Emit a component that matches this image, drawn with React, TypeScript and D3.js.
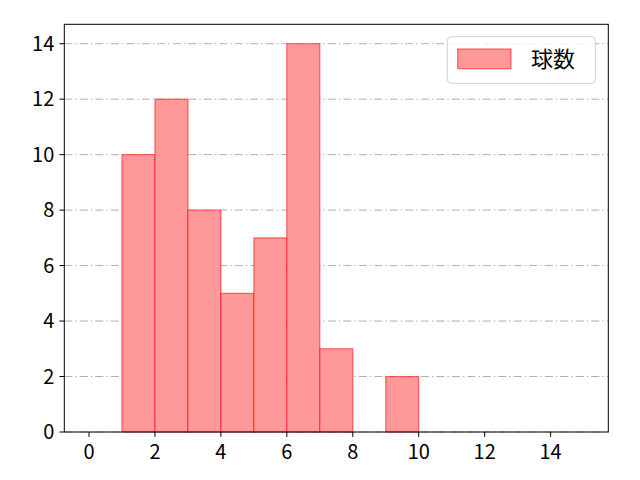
import * as d3 from "d3";

// histogram bins (left edge) and counts
const binStarts = [1, 2, 3, 4, 5, 6, 7, 9];
const counts = [10, 12, 8, 5, 7, 14, 3, 2];
const binWidth = 1;
const xTicks = [0, 2, 4, 6, 8, 10, 12, 14];
const yTicks = [0, 2, 4, 6, 8, 10, 12, 14];
const legendLabel = "球数";

const W = 640;
const H = 480;
const margin = { top: 24.3, right: 31.7, bottom: 48, left: 64.3 };
const font = "'Noto Sans CJK JP', 'Noto Sans', sans-serif";

export default function App() {
  const iw = W - margin.left - margin.right;
  const ih = H - margin.top - margin.bottom;

  const x = d3.scaleLinear().domain([-0.75, 15.75]).range([0, iw]);
  const y = d3.scaleLinear().domain([0, 14.7]).range([ih, 0]);

  const bars = binStarts.map((s, i) => ({ x0: s, x1: s + binWidth, n: counts[i] }));

  return (
    <svg
      width={W}
      height={H}
      style={{ position: "absolute", left: 0, top: 0, background: "#fff" }}
      fontFamily={font}
    >
      <g transform={`translate(${margin.left},${margin.top})`}>
        {/* grid */}
        {yTicks.map((t) => (
          <line
            key={"g" + t}
            x1={0}
            x2={iw}
            y1={y(t)}
            y2={y(t)}
            stroke="#b0b0b0"
            strokeWidth={1}
            strokeDasharray="8,3,1.5,3"
          />
        ))}

        {/* bars */}
        {bars.map((b, i) => (
          <rect
            key={i}
            x={x(b.x0)}
            y={y(b.n)}
            width={x(b.x1) - x(b.x0)}
            height={y(0) - y(b.n)}
            fill="#ff9999"
            stroke="rgba(255,0,0,0.55)"
            strokeWidth={1.2}
          />
        ))}

        {/* frame */}
        <rect x={0} y={0} width={iw} height={ih} fill="none" stroke="#000" strokeWidth={1} />

        {/* x axis */}
        {xTicks.map((t) => (
          <g key={"x" + t} transform={`translate(${x(t)},${ih})`}>
            <line y1={0} y2={4.9} stroke="#000" strokeWidth={1} />
            <text y={27} textAnchor="middle" fontSize={20} fill="#000">
              {t}
            </text>
          </g>
        ))}

        {/* y axis */}
        {yTicks.map((t) => (
          <g key={"y" + t} transform={`translate(0,${y(t)})`}>
            <line x1={-4.9} x2={0} stroke="#000" strokeWidth={1} />
            <text x={-10} dy="0.36em" textAnchor="end" fontSize={20} fill="#000">
              {t}
            </text>
          </g>
        ))}
      </g>

      {/* legend */}
      <g>
        <rect
          x={447.3}
          y={36.7}
          width={148}
          height={46.6}
          rx={4}
          fill="#fff"
          fillOpacity={0.8}
          stroke="#d0d0d0"
          strokeWidth={1}
        />
        <rect
          x={457.7}
          y={49}
          width={53.3}
          height={19.7}
          fill="#ff9999"
          stroke="rgba(255,0,0,0.55)"
          strokeWidth={1.2}
        />
        <text x={531} y={59} dy="0.36em" fontSize={22} fill="#000">
          {legendLabel}
        </text>
      </g>
    </svg>
  );
}
